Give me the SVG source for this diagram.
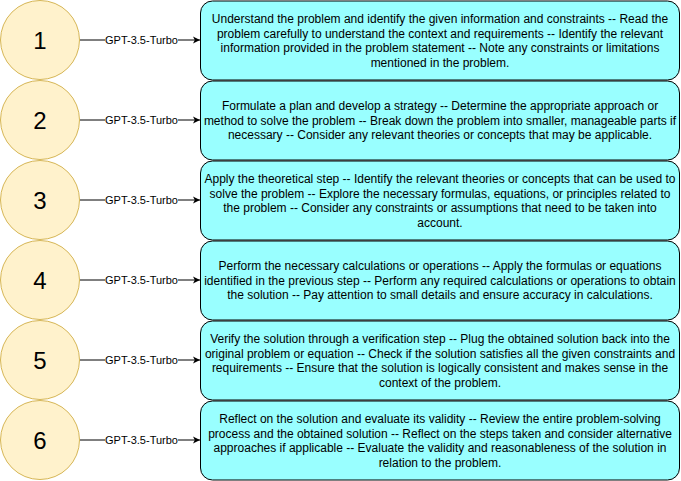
<svg xmlns="http://www.w3.org/2000/svg" width="681" height="481" viewBox="0 0 681 481">
<style>
.c{fill:#FFF2CC;stroke:#D6B656;stroke-width:1}
.n{font-family:"Liberation Sans",Arial,sans-serif;font-size:24px;fill:#000;text-anchor:middle}
.b{fill:#99FFFF;stroke:#000;stroke-width:1}
.t{font-family:"Liberation Sans",Arial,sans-serif;font-size:12px;fill:#000;text-anchor:middle}
.e{stroke:#000;stroke-width:1;fill:none}
.l{font-family:"Liberation Sans",Arial,sans-serif;font-size:11px;fill:#000;text-anchor:middle}
.lb{fill:#fff}
</style>
<defs>
<marker id="ar" markerWidth="8" markerHeight="8" refX="7" refY="4" orient="auto" markerUnits="userSpaceOnUse">
<path d="M0,0.5 L7,4 L0,7.5 L1.8,4 Z" fill="#000"/>
</marker>
</defs>
<rect width="681" height="481" fill="#fff"/>
<g id="connectors">
<line class="e" x1="80" y1="40" x2="200" y2="40" marker-end="url(#ar)"/>
<line class="e" x1="80" y1="120" x2="200" y2="120" marker-end="url(#ar)"/>
<line class="e" x1="80" y1="200" x2="200" y2="200" marker-end="url(#ar)"/>
<line class="e" x1="80" y1="280" x2="200" y2="280" marker-end="url(#ar)"/>
<line class="e" x1="80" y1="360" x2="200" y2="360" marker-end="url(#ar)"/>
<line class="e" x1="80" y1="440" x2="200" y2="440" marker-end="url(#ar)"/>
<g>
<rect class="lb" x="105" y="33" width="73" height="14"/>
<text class="l" x="141.5" y="44">GPT-3.5-Turbo</text>
<rect class="lb" x="105" y="113" width="73" height="14"/>
<text class="l" x="141.5" y="124">GPT-3.5-Turbo</text>
<rect class="lb" x="105" y="193" width="73" height="14"/>
<text class="l" x="141.5" y="204">GPT-3.5-Turbo</text>
<rect class="lb" x="105" y="273" width="73" height="14"/>
<text class="l" x="141.5" y="284">GPT-3.5-Turbo</text>
<rect class="lb" x="105" y="353" width="73" height="14"/>
<text class="l" x="141.5" y="364">GPT-3.5-Turbo</text>
<rect class="lb" x="105" y="433" width="73" height="14"/>
<text class="l" x="141.5" y="444">GPT-3.5-Turbo</text>
</g>
</g>
<g id="circle1"><circle class="c" cx="40" cy="40" r="39.5"/><text class="n" x="40" y="48.5">1</text></g>
<g id="circle2"><circle class="c" cx="40" cy="120" r="39.5"/><text class="n" x="40" y="128.5">2</text></g>
<g id="circle3"><circle class="c" cx="40" cy="200" r="39.5"/><text class="n" x="40" y="208.5">3</text></g>
<g id="circle4"><circle class="c" cx="40" cy="280" r="39.5"/><text class="n" x="40" y="288.5">4</text></g>
<g id="circle5"><circle class="c" cx="40" cy="360" r="39.5"/><text class="n" x="40" y="368.5">5</text></g>
<g id="circle6"><circle class="c" cx="40" cy="440" r="39.5"/><text class="n" x="40" y="448.5">6</text></g>
<g id="box1"><rect class="b" x="200.5" y="1" width="479" height="79" rx="12"/>
<text class="t" x="440"><tspan x="440" y="23">Understand the problem and identify the given information and constraints -- Read the</tspan><tspan x="440" y="37.5">problem carefully to understand the context and requirements -- Identify the relevant</tspan><tspan x="440" y="52">information provided in the problem statement -- Note any constraints or limitations</tspan><tspan x="440" y="66.5">mentioned in the problem.</tspan></text></g>
<g id="box2"><rect class="b" x="200.5" y="81" width="479" height="79" rx="12"/>
<text class="t" x="440"><tspan x="440" y="110">Formulate a plan and develop a strategy -- Determine the appropriate approach or</tspan><tspan x="440" y="124.5">method to solve the problem -- Break down the problem into smaller, manageable parts if</tspan><tspan x="440" y="139">necessary -- Consider any relevant theories or concepts that may be applicable.</tspan></text></g>
<g id="box3"><rect class="b" x="200.5" y="161" width="479" height="79" rx="12"/>
<text class="t" x="440"><tspan x="440" y="183">Apply the theoretical step -- Identify the relevant theories or concepts that can be used to</tspan><tspan x="440" y="197.5">solve the problem -- Explore the necessary formulas, equations, or principles related to</tspan><tspan x="440" y="212">the problem -- Consider any constraints or assumptions that need to be taken into</tspan><tspan x="440" y="226.5">account.</tspan></text></g>
<g id="box4"><rect class="b" x="200.5" y="241" width="479" height="79" rx="12"/>
<text class="t" x="440"><tspan x="440" y="270">Perform the necessary calculations or operations -- Apply the formulas or equations</tspan><tspan x="440" y="284.5">identified in the previous step -- Perform any required calculations or operations to obtain</tspan><tspan x="440" y="299">the solution -- Pay attention to small details and ensure accuracy in calculations.</tspan></text></g>
<g id="box5"><rect class="b" x="200.5" y="321" width="479" height="79" rx="12"/>
<text class="t" x="440"><tspan x="440" y="343">Verify the solution through a verification step -- Plug the obtained solution back into the</tspan><tspan x="440" y="357.5">original problem or equation -- Check if the solution satisfies all the given constraints and</tspan><tspan x="440" y="372">requirements -- Ensure that the solution is logically consistent and makes sense in the</tspan><tspan x="440" y="386.5">context of the problem.</tspan></text></g>
<g id="box6"><rect class="b" x="200.5" y="401" width="479" height="79" rx="12"/>
<text class="t" x="440"><tspan x="440" y="423">Reflect on the solution and evaluate its validity -- Review the entire problem-solving</tspan><tspan x="440" y="437.5">process and the obtained solution -- Reflect on the steps taken and consider alternative</tspan><tspan x="440" y="452">approaches if applicable -- Evaluate the validity and reasonableness of the solution in</tspan><tspan x="440" y="466.5">relation to the problem.</tspan></text></g>
</svg>
